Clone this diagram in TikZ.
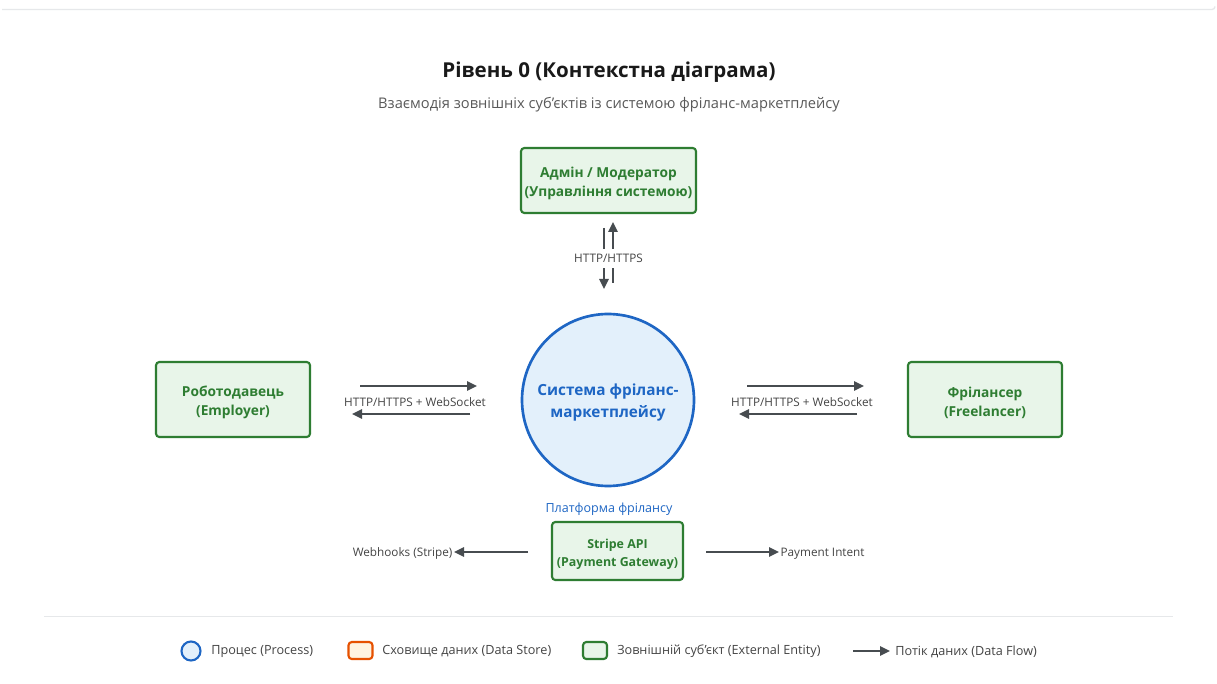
\documentclass[tikz,border=0pt]{standalone}
\usepackage{fontspec}
\setmainfont{Open Sans}
\usetikzlibrary{arrows.meta}
\definecolor{entfill}{HTML}{E8F5E9}
\definecolor{entline}{HTML}{2E7D32}
\definecolor{procfill}{HTML}{E3F0FB}
\definecolor{procline}{HTML}{1E66C4}
\definecolor{storefill}{HTML}{FFF3E0}
\definecolor{storeline}{HTML}{E65100}
\definecolor{flowcol}{HTML}{474C50}
\definecolor{labcol}{HTML}{444444}
\definecolor{rulecol}{HTML}{E6E8EA}
\tikzset{
  entity/.style={draw=entline, fill=entfill, line width=1.6pt, rounded corners=2.5pt, inner sep=0pt},
  enttext/.style={font=\fontsize{10.3}{14.2}\selectfont\bfseries, text=entline, align=center, inner sep=0pt},
  flow/.style={draw=flowcol, line width=1.5pt, -{Triangle[length=7.5pt,width=7pt]}},
  flowlab/.style={font=\fontsize{8.8}{10}\selectfont, text=labcol, inner sep=1pt},
}
\begin{document}
\begin{tikzpicture}[x=0.75pt,y=-0.75pt]
\useasboundingbox (0,0) rectangle (1217,684);
\fill[white] (0,0) rectangle (1217,684);
% top border of the card
\draw[rulecol, line width=1pt] (2,9.5) -- (1212,9.5) arc[start angle=90,end angle=0,radius=3];

% heading
\node[font=\fontsize{15.4}{18}\selectfont\bfseries, text=black!90] (title) at (609,72.5) {Рівень 0 (Контекстна діаграма)};
\node[font=\fontsize{11}{13}\selectfont, text=black!65] (subtitle) at (609,104.5) {Взаємодія зовнішніх суб'єктів із системою фріланс-маркетплейсу};

% central process
\node[circle, draw=procline, fill=procfill, line width=2pt, minimum size=172*0.75pt, inner sep=0pt]
  (sys) at (608,400) {};
\node[font=\fontsize{11.5}{16.5}\selectfont\bfseries, text=procline, align=center, inner sep=0pt]
  (sysT) at ([yshift=-2.2pt]sys.center) {Система фріланс-\\маркетплейсу};
\node[font=\fontsize{9.4}{11}\selectfont, text=procline] (plat) at (609,509) {Платформа фрілансу};

% external entities
\node[entity, minimum width=175*0.75pt, minimum height=65*0.75pt] (admin) at (608.5,180.5) {};
\node[enttext] (adminT) at ([yshift=-2pt]admin.center) {Адмін / Модератор\\(Управління системою)};
\node[entity, minimum width=154*0.75pt, minimum height=75*0.75pt] (emp) at (233,399.5) {};
\node[enttext] (empT) at ([yshift=-2.2pt]emp.center) {Роботодавець\\(Employer)};
\node[entity, minimum width=154*0.75pt, minimum height=75*0.75pt] (free) at (985,399.5) {};
\node[enttext] (freeT) at ([yshift=-2.2pt]free.center) {Фрілансер\\(Freelancer)};
\node[entity, minimum width=131*0.75pt, minimum height=58*0.75pt] (stripe) at (617.5,551) {};
\node[enttext, font=\fontsize{9.3}{13.4}\selectfont\bfseries] (stripeT) at ([yshift=-2.2pt]stripe.center) {Stripe API\\(Payment Gateway)};

% admin <-> system
\coordinate (aTop1) at (604,228);
\coordinate (aBot1) at (604,289);
\coordinate (aBot2) at (613,283);
\coordinate (aTop2) at (613,222);
\draw[flow] (aTop1) -- (aBot1);
\draw[flow] (aBot2) -- (aTop2);
\node[flowlab, fill=white, inner ysep=4pt] (labA) at (608.5,258.5) {HTTP/HTTPS};

% employer <-> system
\coordinate (e1) at (360,386);
\coordinate (e2) at (477,386);
\coordinate (e3) at (470,414);
\coordinate (e4) at (352,414);
\draw[flow] (e1) -- (e2);
\draw[flow] (e3) -- (e4);
\node[flowlab] (labE) at (415,402) {HTTP/HTTPS + WebSocket};

% system <-> freelancer
\coordinate (f1) at (747,386);
\coordinate (f2) at (864,386);
\coordinate (f3) at (857,414);
\coordinate (f4) at (739,414);
\draw[flow] (f1) -- (f2);
\draw[flow] (f3) -- (f4);
\node[flowlab] (labF) at (802,402) {HTTP/HTTPS + WebSocket};

% payment gateway flows
\coordinate (s1) at (528,552);
\coordinate (s2) at (706,552);
\node[flowlab, anchor=east] (hook) at (454,553.5) {Webhooks (Stripe)};
\node[flowlab, anchor=west] (intent) at (779,553.5) {Payment Intent};
\draw[flow] (s1) -- (hook.east |- s1);
\draw[flow] (s2) -- (intent.west |- s2);

% separator
\draw[rulecol, line width=1pt] (44,616.5) -- (1173,616.5);

% legend
\tikzset{legtext/.style={font=\fontsize{9.5}{11}\selectfont, text=labcol, anchor=west, inner sep=0pt}}
\node[circle, draw=procline, fill=procfill, line width=1.6pt, minimum size=19*0.75pt, inner sep=0pt] (lp) at (191,651) {};
\node[legtext] (lpt) at (211,651.5) {Процес (Process)};
\node[draw=storeline, fill=storefill, line width=1.6pt, rounded corners=2.5pt, minimum width=24*0.75pt, minimum height=17*0.75pt, inner sep=0pt] (ls) at (360.5,650.5) {};
\node[legtext] (lst) at (382,651.5) {Сховище даних (Data Store)};
\node[draw=entline, fill=entfill, line width=1.6pt, rounded corners=2.5pt, minimum width=24*0.75pt, minimum height=17*0.75pt, inner sep=0pt] (le) at (595,650.5) {};
\node[legtext] (let) at (617,651.5) {Зовнішній суб'єкт (External Entity)};
\node[legtext] (lft) at (895,651.5) {Потік даних (Data Flow)};
\coordinate (lf0) at (853,651);
\coordinate (lf1) at (890,651);
\draw[flow] (lf0) -- (lf1);
\end{tikzpicture}
\end{document}
